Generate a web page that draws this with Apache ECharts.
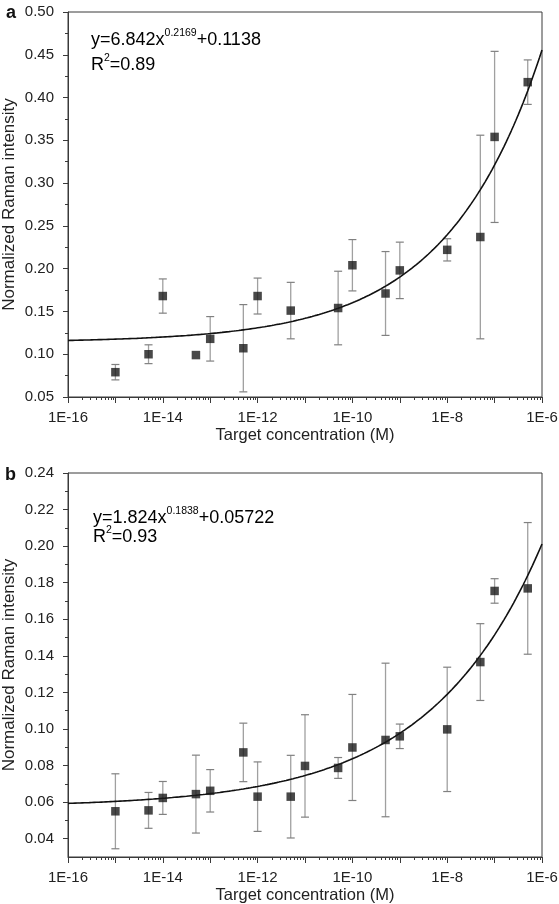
<!DOCTYPE html>
<html>
<head>
<meta charset="utf-8">
<script src="https://cdn.jsdelivr.net/npm/echarts@6/dist/echarts.min.js"></script>
<style>
html,body{margin:0;padding:0;background:#fff;}
#chart{width:559px;height:904px;}
</style>
</head>
<body>
<div id="chart"></div>
<script>
// ---- Data ----
const concA = [1e-15, 5e-15, 1e-14, 5e-14, 1e-13, 5e-13, 1e-12, 5e-12, 5e-11, 1e-10, 5e-10, 1e-9, 1e-8, 5e-8, 1e-7, 5e-7];
const intensityA = [0.079, 0.100, 0.168, 0.099, 0.118, 0.107, 0.168, 0.151, 0.154, 0.204, 0.171, 0.198, 0.222, 0.237, 0.354, 0.418];
const errorA = [0.009, 0.011, 0.020, 0, 0.026, 0.051, 0.021, 0.033, 0.043, 0.030, 0.049, 0.033, 0.013, 0.119, 0.100, 0.026];

const concB = [1e-15, 5e-15, 1e-14, 5e-14, 1e-13, 5e-13, 1e-12, 5e-12, 1e-11, 5e-11, 1e-10, 5e-10, 1e-9, 1e-8, 5e-8, 1e-7, 5e-7];
const intensityB = [0.0550, 0.0555, 0.0623, 0.0644, 0.0662, 0.0872, 0.0630, 0.0630, 0.0798, 0.0787, 0.0899, 0.0940, 0.0960, 0.0998, 0.1366, 0.1755, 0.1769];
const errorB = [0.0205, 0.0098, 0.0090, 0.0213, 0.0116, 0.0160, 0.0190, 0.0226, 0.0280, 0.0057, 0.0290, 0.0420, 0.0067, 0.0340, 0.0210, 0.0067, 0.0360];

// Fitted curves as printed on the chart: y = k * x^p + c
const fitA = { k: '6.842', p: '0.2169', c: '0.1138', r2: '0.89' };
const fitB = { k: '1.824', p: '0.1838', c: '0.05722', r2: '0.93' };

const yTicksB = [0.04, 0.06, 0.08, 0.10, 0.12, 0.14, 0.16, 0.18, 0.20, 0.22, 0.24];
const yMinorB = [0.05, 0.07, 0.09, 0.11, 0.13, 0.15, 0.17, 0.19, 0.21, 0.23];

// ---- helpers ----
const FONT = 'Liberation Sans, Arial, sans-serif';
const AX = '#3a3a3a';
const TXT = '#222';

function minorLogTicks() {
  const out = [];
  for (let d = -16; d < -6; d++) {
    for (let m = 2; m <= 9; m++) out.push(d + Math.log10(m));
  }
  return out;
}
function curve(fit) {
  const k = parseFloat(fit.k), p = parseFloat(fit.p), c = parseFloat(fit.c);
  const out = [];
  for (let i = 0; i <= 200; i++) {
    const lx = -16 + i * 0.05;
    out.push([lx, k * Math.pow(Math.pow(10, lx), p) + c]);
  }
  return out;
}
function pts(conc, vals) { return conc.map((c, i) => [Math.log10(c), vals[i]]); }
function errPts(conc, vals, errs) { return conc.map((c, i) => [Math.log10(c), vals[i], errs[i]]); }

function errorRender(params, api) {
  const x = api.value(0), y = api.value(1), e = api.value(2);
  if (!e) return { type: 'group', children: [] };
  const top = api.coord([x, y + e]);
  const bot = api.coord([x, y - e]);
  const hw = 4;
  return {
    type: 'group',
    children: [
      { type: 'line', shape: { x1: top[0], y1: top[1], x2: bot[0], y2: bot[1] }, style: { stroke: '#a0a0a0', lineWidth: 1.3 } },
      { type: 'line', shape: { x1: top[0] - hw, y1: top[1], x2: top[0] + hw, y2: top[1] }, style: { stroke: '#808080', lineWidth: 1.2 } },
      { type: 'line', shape: { x1: bot[0] - hw, y1: bot[1], x2: bot[0] + hw, y2: bot[1] }, style: { stroke: '#808080', lineWidth: 1.2 } }
    ]
  };
}

const grids = [
  { left: 68, top: 12, right: 17, height: 385, show: true, borderColor: AX, borderWidth: 1, containLabel: false, outerBoundsMode: 'none' },
  { left: 68, top: 473, right: 17, height: 384, show: true, borderColor: AX, borderWidth: 1, containLabel: false, outerBoundsMode: 'none' }
];

function mainX(gi) {
  return {
    type: 'value', gridIndex: gi, min: -16, max: -6, interval: 1,
    name: 'Target concentration (M)', nameLocation: 'middle', nameGap: 30,
    nameTextStyle: { fontFamily: FONT, fontSize: 16.5, color: TXT },
    axisLine: { lineStyle: { color: AX, width: 1 } },
    axisTick: { show: true, length: 6, lineStyle: { color: AX } },
    axisLabel: {
      margin: 13, fontFamily: FONT, fontSize: 15, color: TXT, hideOverlap: false,
      showMinLabel: true, showMaxLabel: true,
      formatter: v => (Math.round(v) % 2 === 0 ? '1E' + Math.round(v) : '')
    },
    splitLine: { show: false }
  };
}
function minorX(gi) {
  return {
    type: 'value', gridIndex: gi, min: -16, max: -6, position: 'bottom',
    axisLine: { show: false },
    axisTick: { show: true, length: 3, customValues: minorLogTicks(), lineStyle: { color: AX } },
    axisLabel: { show: false },
    splitLine: { show: false }
  };
}
const yName = {
  name: 'Normalized Raman intensity', nameLocation: 'middle', nameGap: 50, nameMoveOverlap: false,
  nameTextStyle: { fontFamily: FONT, fontSize: 17, color: TXT }
};

function eqText(fit, x, yc1, yc2) {
  const rich = {
    m: { fontFamily: FONT, fontSize: 18, color: TXT },
    s: { fontFamily: FONT, fontSize: 10.5, color: TXT, padding: [0, 0, 14, 0] }
  };
  return [
    { type: 'text', x: x, y: yc1, style: {
      text: '{m|y=' + fit.k + 'x}{s|' + fit.p + '}{m|+' + fit.c + '}', rich: rich, verticalAlign: 'middle' } },
    { type: 'text', x: x, y: yc2, style: {
      text: '{m|R}{s|2}{m|=' + fit.r2 + '}', rich: rich, verticalAlign: 'middle' } }
  ];
}

const option = {
  animation: false,
  backgroundColor: '#fff',
  grid: grids,
  xAxis: [mainX(0), minorX(0), mainX(1), minorX(1)],
  yAxis: [
    Object.assign({
      type: 'value', gridIndex: 0, min: 0.05, max: 0.5, interval: 0.05,
      axisLine: { show: true, lineStyle: { color: AX } },
      axisTick: { show: true, length: 5, lineStyle: { color: AX } },
      minorTick: { show: true, splitNumber: 2, length: 3, lineStyle: { color: AX } },
      axisLabel: { margin: 14, fontFamily: FONT, fontSize: 15, color: TXT, formatter: v => v.toFixed(2) },
      splitLine: { show: false }
    }, yName),
    Object.assign({
      type: 'value', gridIndex: 1, min: 0.03, max: 0.24,
      axisLine: { show: true, lineStyle: { color: AX } },
      axisTick: { show: true, length: 5, customValues: yTicksB, lineStyle: { color: AX } },
      axisLabel: { margin: 14, fontFamily: FONT, fontSize: 15, color: TXT, customValues: yTicksB, formatter: v => v.toFixed(2) },
      splitLine: { show: false }
    }, yName),
    {
      type: 'value', gridIndex: 1, min: 0.03, max: 0.24, position: 'left',
      axisLine: { show: false },
      axisTick: { show: true, length: 3, customValues: yMinorB, lineStyle: { color: AX } },
      axisLabel: { show: false },
      splitLine: { show: false }
    }
  ],
  graphic: [
    { type: 'text', x: 6, y: 13, style: { text: 'a', font: 'bold 18px ' + FONT, fill: '#111', verticalAlign: 'middle' } },
    { type: 'text', x: 5, y: 475, style: { text: 'b', font: 'bold 18px ' + FONT, fill: '#111', verticalAlign: 'middle' } }
  ].concat(eqText(fitA, 91, 40, 65)).concat(eqText(fitB, 93, 518, 537)),
  series: [
    { type: 'line', xAxisIndex: 0, yAxisIndex: 0, data: curve(fitA), showSymbol: false, symbol: 'none',
      lineStyle: { color: '#111', width: 1.6 }, z: 3, silent: true },
    { type: 'custom', xAxisIndex: 0, yAxisIndex: 0, data: errPts(concA, intensityA, errorA), renderItem: errorRender, z: 2 },
    { type: 'scatter', xAxisIndex: 0, yAxisIndex: 0, data: pts(concA, intensityA), symbol: 'rect', symbolSize: 8.5,
      itemStyle: { color: '#1a1a1a' }, z: 5 },
    { type: 'line', xAxisIndex: 2, yAxisIndex: 1, data: curve(fitB), showSymbol: false, symbol: 'none',
      lineStyle: { color: '#111', width: 1.6 }, z: 3, silent: true },
    { type: 'custom', xAxisIndex: 2, yAxisIndex: 1, data: errPts(concB, intensityB, errorB), renderItem: errorRender, z: 2 },
    { type: 'scatter', xAxisIndex: 2, yAxisIndex: 1, data: pts(concB, intensityB), symbol: 'rect', symbolSize: 8.5,
      itemStyle: { color: '#1a1a1a' }, z: 5 }
  ]
};

const chart = echarts.init(document.getElementById('chart'), null, { renderer: 'canvas' });
chart.setOption(option);
</script>
</body>
</html>
